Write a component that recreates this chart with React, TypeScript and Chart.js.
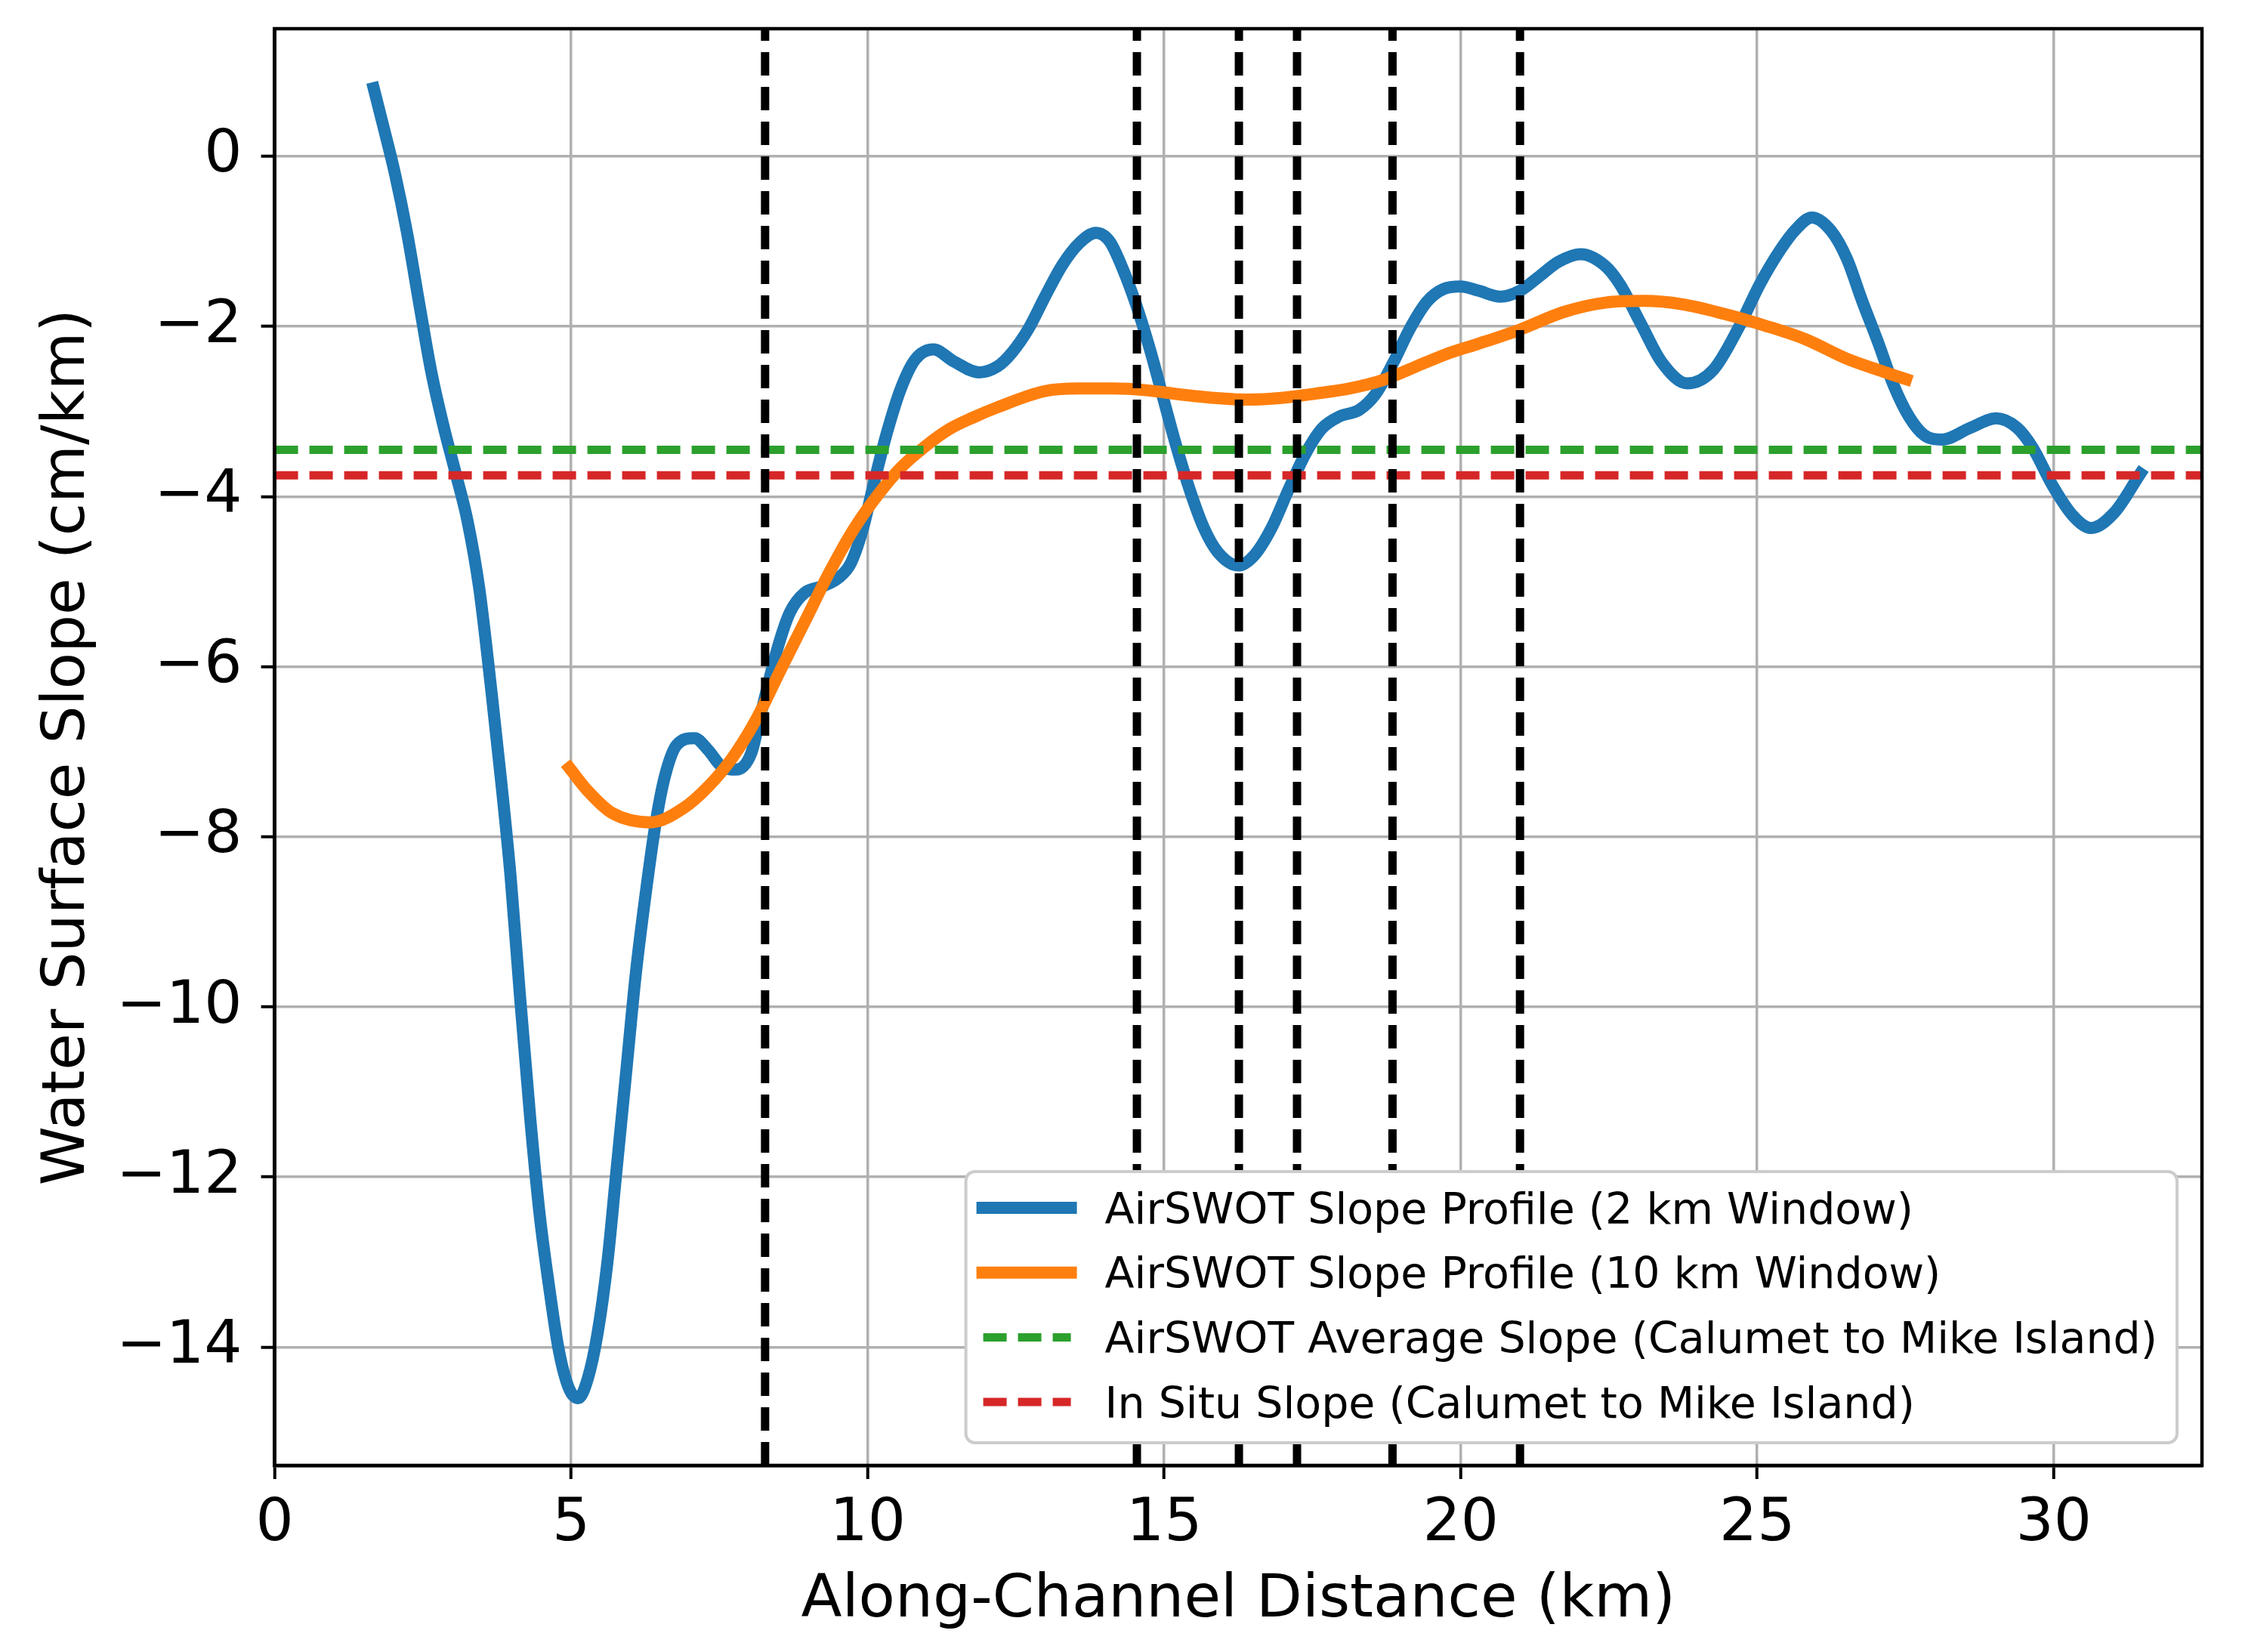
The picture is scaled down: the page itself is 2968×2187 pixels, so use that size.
import React, { useEffect, useRef } from "react";
import { Chart, registerables } from "chart.js";

Chart.register(...registerables);

const W = 2968;
const H = 2187;
const FONT = "'DejaVu Sans', 'Liberation Sans', sans-serif";

const X_MIN = 0;
const X_MAX = 32.5;
const Y_MIN = -15.39;
const Y_MAX = 1.5;
const X_TICKS = [0, 5, 10, 15, 20, 25, 30];
const Y_TICKS = [-14, -12, -10, -8, -6, -4, -2, 0];

const X_LABEL = "Along-Channel Distance (km)";
const Y_LABEL = "Water Surface Slope (cm/km)";

const LEGEND_LABELS = [
  "AirSWOT Slope Profile (2 km Window)",
  "AirSWOT Slope Profile (10 km Window)",
  "AirSWOT Average Slope (Calumet to Mike Island)",
  "In Situ Slope (Calumet to Mike Island)",
];

const BLUE_X = [
  1.67, 1.83, 2.03, 2.23, 2.44, 2.64, 2.84, 3.05, 3.25, 3.45,
  3.66, 3.82, 3.98, 4.14, 4.31, 4.47, 4.63, 4.79, 4.96, 5.12,
  5.28, 5.44, 5.61, 5.77, 5.93, 6.09, 6.26, 6.42, 6.58, 6.78,
  7.08, 7.31, 7.55, 7.78, 8.04, 8.2, 8.49, 8.69, 8.94, 9.26,
  9.5, 9.71, 9.91, 10.11, 10.32, 10.56, 10.8, 11.11, 11.45, 11.88,
  12.19, 12.43, 12.71, 12.99, 13.28, 13.57, 13.85, 14.08, 14.3, 14.53,
  14.76, 14.99, 15.21, 15.44, 15.67, 15.9, 16.25, 16.52, 16.81, 17.09,
  17.38, 17.66, 17.95, 18.29, 18.57, 18.86, 19.14, 19.43, 19.71, 20.0,
  20.3, 20.67, 21.0, 21.31, 21.65, 22.02, 22.44, 22.69, 23.04, 23.39,
  23.82, 24.26, 24.69, 25.04, 25.38, 25.65, 25.92, 26.25, 26.51, 26.77,
  27.04, 27.3, 27.56, 27.82, 28.12, 28.6, 29.03, 29.38, 29.64, 29.98,
  30.33, 30.63, 31.02, 31.46,
];
const BLUE_Y = [
  0.8, 0.36, -0.21, -0.89, -1.74, -2.53, -3.15, -3.72, -4.28, -5.08,
  -6.32, -7.35, -8.48, -9.9, -11.31, -12.45, -13.3, -14.03, -14.48, -14.6,
  -14.37, -13.86, -13.01, -11.88, -10.75, -9.61, -8.65, -7.86, -7.29, -6.92,
  -6.84, -6.98, -7.18, -7.21, -7.01, -6.55, -5.76, -5.36, -5.13, -5.05,
  -4.96, -4.79, -4.4, -3.83, -3.26, -2.73, -2.39, -2.27, -2.41, -2.54,
  -2.47, -2.31, -2.03, -1.65, -1.28, -1.02, -0.9, -1.0, -1.32, -1.75,
  -2.27, -2.86, -3.42, -3.94, -4.37, -4.65, -4.81, -4.69, -4.37, -3.93,
  -3.5, -3.2, -3.06, -2.98, -2.79, -2.43, -2.03, -1.71, -1.56, -1.53,
  -1.58, -1.65, -1.58, -1.42, -1.24, -1.15, -1.29, -1.51, -1.97, -2.42,
  -2.67, -2.51, -2.01, -1.51, -1.11, -0.86, -0.72, -0.88, -1.2, -1.7,
  -2.19, -2.69, -3.06, -3.28, -3.33, -3.19, -3.08, -3.19, -3.42, -3.87,
  -4.23, -4.37, -4.19, -3.73,
];

const ORANGE_X = [
  4.97, 5.28, 5.69, 6.34, 6.9, 7.31, 7.72, 8.12, 8.53, 8.94,
  9.34, 9.75, 10.15, 10.56, 10.97, 11.37, 11.78, 12.19, 12.99, 13.57,
  14.13, 14.7, 15.27, 15.84, 16.41, 16.98, 17.55, 18.12, 18.69, 19.25,
  19.82, 20.27, 20.99, 21.74, 22.44, 23.09, 23.74, 24.43, 25.13, 25.81,
  26.51, 27.12, 27.51,
];
const ORANGE_Y = [
  -7.19, -7.46, -7.72, -7.83, -7.66, -7.41, -7.07, -6.62, -6.04, -5.47,
  -4.91, -4.4, -4.0, -3.66, -3.41, -3.21, -3.07, -2.95, -2.76, -2.73,
  -2.73, -2.75, -2.8, -2.84, -2.86, -2.84, -2.79, -2.73, -2.63, -2.47,
  -2.31, -2.21, -2.04, -1.83, -1.72, -1.7, -1.74, -1.85, -1.99, -2.15,
  -2.38, -2.53, -2.62,
];

const AIRSWOT_AVG_SLOPE = -3.45;
const IN_SITU_SLOPE = -3.75;
const SECTION_BREAKS_X = [8.27, 14.54, 16.26, 17.24, 18.85, 21.0];

const fmt = (v: number) => (v < 0 ? "\u2212" + String(Math.abs(v)) : String(v));
const toPoints = (xs: number[], ys: number[]) => xs.map((x, i) => ({ x, y: ys[i] }));

const DASH = [31, 15];

const framePlugin = {
  id: "frame",
  afterDatasetsDraw(chart: any) {
    const { ctx, chartArea: a } = chart;
    ctx.save();
    ctx.strokeStyle = "#000";
    ctx.lineWidth = 4.5;
    ctx.strokeRect(a.left, a.top, a.right - a.left, a.bottom - a.top);
    ctx.restore();
  },
};

const legendPlugin = {
  id: "mplLegend",
  afterDraw(chart: any) {
    const { ctx, chartArea: a } = chart;
    const fontSize = 57;
    ctx.save();
    ctx.font = `${fontSize}px ${FONT}`;
    const maxW = Math.max(...LEGEND_LABELS.map((t) => ctx.measureText(t).width));
    const right = a.right - 33;
    const bottom = a.bottom - 30;
    const rowH = 85.7;
    const height = 359;
    const textOffset = 184;
    const width = textOffset + maxW + 26;
    const left = right - width;
    const top = bottom - height;
    ctx.beginPath();
    ctx.roundRect(left, top, width, height, 12);
    ctx.fillStyle = "#ffffff";
    ctx.fill();
    ctx.lineWidth = 4;
    ctx.strokeStyle = "#cccccc";
    ctx.stroke();
    LEGEND_LABELS.forEach((label, i) => {
      const ds = chart.data.datasets[i];
      const cy = top + 48 + i * rowH;
      ctx.save();
      ctx.beginPath();
      ctx.strokeStyle = ds.borderColor;
      ctx.lineWidth = ds.borderWidth;
      const dashed = Array.isArray(ds.borderDash) && ds.borderDash.length > 0;
      ctx.setLineDash(dashed ? ds.borderDash : []);
      ctx.lineCap = dashed ? "butt" : "square";
      ctx.moveTo(left + (dashed ? 23 : 22), cy);
      ctx.lineTo(left + 139, cy);
      ctx.stroke();
      ctx.restore();
      ctx.fillStyle = "#000";
      ctx.textAlign = "left";
      ctx.textBaseline = "alphabetic";
      ctx.fillText(label, left + textOffset, cy + 20.5);
    });
    ctx.restore();
  },
};

export default function App() {
  const canvasRef = useRef<HTMLCanvasElement | null>(null);

  useEffect(() => {
    document.body.style.margin = "0";
    document.body.style.overflow = "hidden";
    const canvas = canvasRef.current;
    if (!canvas) return;
    Chart.defaults.font.family = FONT;

    const lineBase = { pointRadius: 0, pointHoverRadius: 0, fill: false, borderJoinStyle: "round" as const };

    const datasets: any[] = [
      {
        ...lineBase,
        label: LEGEND_LABELS[0],
        data: toPoints(BLUE_X, BLUE_Y),
        borderColor: "#1f77b4",
        borderWidth: 16,
        borderCapStyle: "square",
        cubicInterpolationMode: "monotone",
        order: 4,
      },
      {
        ...lineBase,
        label: LEGEND_LABELS[1],
        data: toPoints(ORANGE_X, ORANGE_Y),
        borderColor: "#ff7f0e",
        borderWidth: 16,
        borderCapStyle: "square",
        cubicInterpolationMode: "monotone",
        order: 3,
      },
      {
        ...lineBase,
        label: LEGEND_LABELS[2],
        data: [
          { x: X_MIN, y: AIRSWOT_AVG_SLOPE },
          { x: X_MAX, y: AIRSWOT_AVG_SLOPE },
        ],
        borderColor: "#2ca02c",
        borderWidth: 11,
        borderDash: DASH,
        borderCapStyle: "butt",
        order: 2,
      },
      {
        ...lineBase,
        label: LEGEND_LABELS[3],
        data: [
          { x: X_MIN, y: IN_SITU_SLOPE },
          { x: X_MAX, y: IN_SITU_SLOPE },
        ],
        borderColor: "#d62728",
        borderWidth: 11,
        borderDash: DASH,
        borderCapStyle: "butt",
        order: 2,
      },
      ...SECTION_BREAKS_X.map((xv) => ({
        ...lineBase,
        label: "",
        data: [
          { x: xv, y: Y_MIN },
          { x: xv, y: Y_MAX },
        ],
        borderColor: "#000000",
        borderWidth: 11,
        borderDash: DASH,
        borderCapStyle: "butt",
        order: 1,
      })),
    ];

    const tickFont = { size: 79, family: FONT };

    const chart = new Chart(canvas, {
      type: "line",
      data: { datasets },
      options: {
        animation: false,
        responsive: false,
        devicePixelRatio: 1,
        events: [],
        layout: { padding: { top: 38, right: 53, bottom: 0, left: 0 } },
        plugins: {
          legend: { display: false },
          tooltip: { enabled: false },
        },
        scales: {
          x: {
            type: "linear",
            min: X_MIN,
            max: X_MAX,
            afterBuildTicks: (s: any) => {
              s.ticks = X_TICKS.map((v) => ({ value: v }));
            },
            afterFit: (s: any) => {
              s.height = 247;
              s.paddingLeft = 0;
              s.paddingRight = 0;
            },
            ticks: {
              font: tickFont,
              color: "#000",
              padding: 13,
              maxRotation: 0,
              autoSkip: false,
              callback: (v: any) => fmt(Number(v)),
            },
            grid: {
              color: "#b0b0b0",
              lineWidth: 3.5,
              tickColor: "#000",
              tickLength: 18,
              tickWidth: 4,
            },
            border: { color: "#000", width: 4.5 },
            title: {
              display: true,
              text: X_LABEL,
              color: "#000",
              font: { size: 79, family: FONT },
              padding: { top: 0, bottom: 20 },
            },
          },
          y: {
            type: "linear",
            min: Y_MIN,
            max: Y_MAX,
            afterBuildTicks: (s: any) => {
              s.ticks = Y_TICKS.map((v) => ({ value: v }));
            },
            afterFit: (s: any) => {
              s.width = 363.6;
              s.paddingTop = 0;
              s.paddingBottom = 0;
            },
            ticks: {
              font: tickFont,
              color: "#000",
              padding: 25,
              autoSkip: false,
              callback: (v: any) => fmt(Number(v)),
            },
            grid: {
              color: "#b0b0b0",
              lineWidth: 3.5,
              tickColor: "#000",
              tickLength: 18,
              tickWidth: 4,
            },
            border: { color: "#000", width: 4.5 },
            title: {
              display: true,
              text: Y_LABEL,
              color: "#000",
              font: { size: 79, family: FONT },
              padding: { top: 43, bottom: 0 },
            },
          },
        },
      },
      plugins: [framePlugin, legendPlugin],
    } as any);

    return () => chart.destroy();
  }, []);

  return (
    <div style={{ width: W, height: H }}>
      <canvas
        ref={canvasRef}
        width={W}
        height={H}
        style={{ display: "block", width: W, height: H }}
      />
    </div>
  );
}
